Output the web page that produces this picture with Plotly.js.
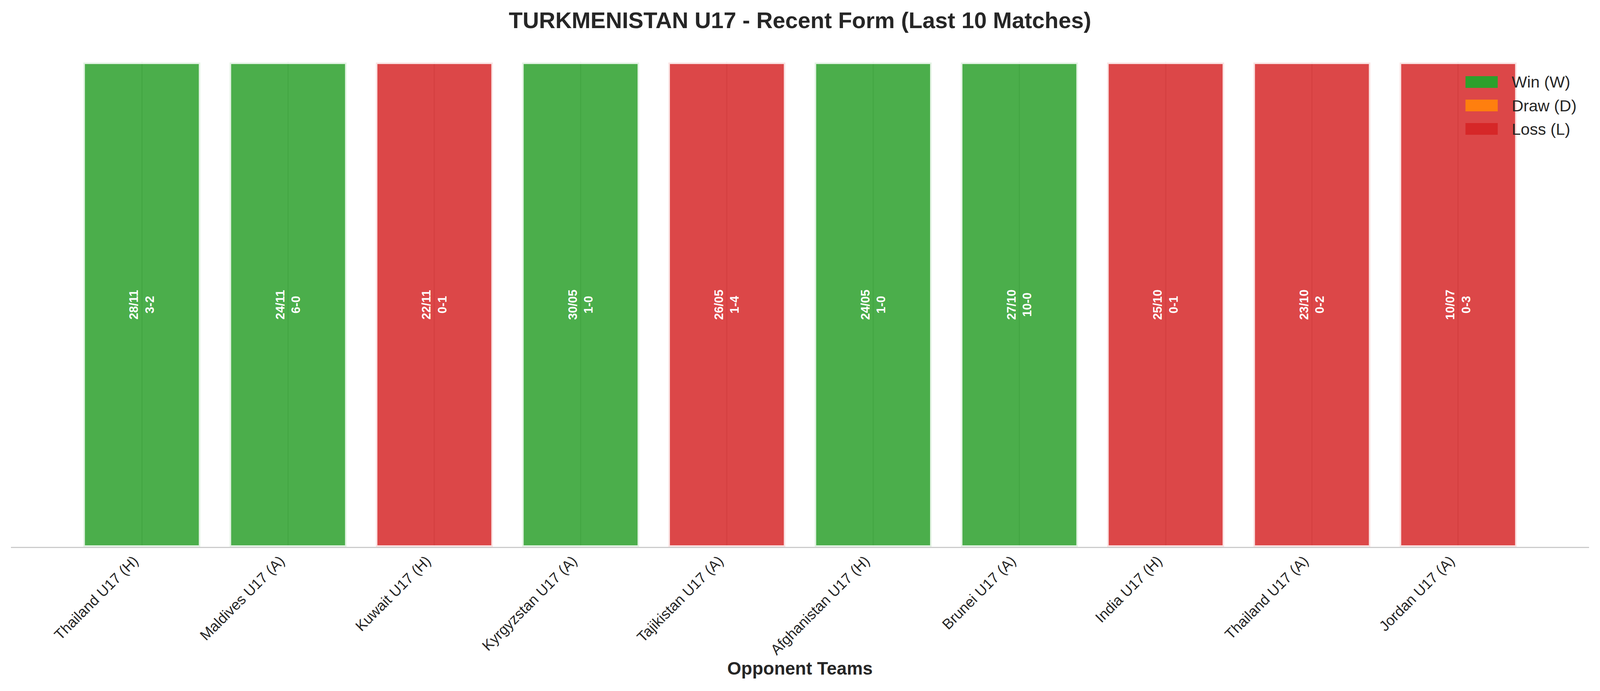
<!DOCTYPE html>
<html>
<head>
<meta charset="utf-8">
<script src="https://cdn.plot.ly/plotly-3.0.1.min.js"></script>
<style>html,body{margin:0;padding:0;background:#fff;overflow:hidden;}</style>
</head>
<body>
<div id="chart"></div>
<script>
const opponents = ['Thailand U17 (H)','Maldives U17 (A)','Kuwait U17 (H)','Kyrgyzstan U17 (A)','Tajikistan U17 (A)','Afghanistan U17 (H)','Brunei U17 (A)','India U17 (H)','Thailand U17 (A)','Jordan U17 (A)'];
const results = ['W','W','L','W','L','W','W','L','L','L'];
const dates = ['28/11','24/11','22/11','30/05','26/05','24/05','27/10','25/10','23/10','10/07'];
const scores = ['3-2','6-0','0-1','1-0','1-4','1-0','10-0','0-1','0-2','0-3'];
const barHeights = [1,1,1,1,1,1,1,1,1,1];

const legendKeys = ['W','D','L'];
const legendLabels = ['Win (W)','Draw (D)','Loss (L)'];
const resultColors = {W:'#2ca02c', D:'#ff7f0e', L:'#d62728'};
const resultFill = {W:'rgba(44,160,44,0.85)', D:'rgba(255,127,14,0.85)', L:'rgba(214,39,40,0.85)'};

const FONT = 'Liberation Sans, Arial, Helvetica, sans-serif';
const TXT = '#262626';

// reference design is 4170x1769; fit to the real viewport
const W = Math.min(window.innerWidth || 4170, 4170);
const H = Math.min(window.innerHeight || 1769, 1769);
const sx = W/4170, sy = H/1769;

const trace = {
  type:'bar',
  x: opponents,
  y: barHeights,
  width: 0.8,
  marker:{
    color: results.map(r=>resultFill[r]),
    line:{color:'rgba(255,255,255,0.85)', width:8}
  },
  text: dates.map((d,i)=>d+'<br>'+scores[i]),
  textposition:'inside',
  insidetextanchor:'middle',
  textangle:-90,
  constraintext:'none',
  textfont:{family:FONT, size:31, color:'#ffffff', weight:'bold'},
  hoverinfo:'skip',
  showlegend:false
};

const L = 29*sx, R = 29*sx, T = 157*sy, B = 369*sy;
const pw = W-L-R, ph = H-T-B;
const px = x => (x*sx-L)/pw;
const py = y => (H-B-y*sy)/ph;

const shapes = [];
const annotations = [];
legendKeys.forEach((k,i)=>{
  const yc = 210 + i*60;
  shapes.push({type:'rect', xref:'paper', yref:'paper', x0:px(3819), x1:px(3903), y0:py(yc+15), y1:py(yc-15),
    fillcolor:resultColors[k], line:{width:0}, layer:'above'});
  annotations.push({xref:'paper', yref:'paper', x:px(3937), y:py(yc), xanchor:'left', yanchor:'middle',
    text:legendLabels[i], showarrow:false, font:{family:FONT, size:41.5, color:TXT}});
});

const layout = {
  width:W, height:H,
  margin:{l:L, r:R, t:T, b:B, pad:0},
  paper_bgcolor:'#ffffff',
  plot_bgcolor:'#ffffff',
  title:{text:'TURKMENISTAN U17 - Recent Form (Last 10 Matches)', font:{family:FONT, size:58, color:TXT, weight:'bold'},
    x:0.5, xanchor:'center', xref:'container', y:1-52/1769, yanchor:'middle', yref:'container'},
  xaxis:{
    type:'category',
    range:[-0.895, 9.895],
    showgrid:true, gridcolor:'#cccccc', gridwidth:3,
    showline:true, linecolor:'#cccccc', linewidth:3,
    ticks:'', tickangle:-45,
    tickfont:{family:FONT, size:37.5, color:TXT},
    ticklabelstandoff:-4,
    ticklabelshift:-20,
    zeroline:false,
    title:{text:'Opponent Teams', font:{family:FONT, size:46, color:TXT, weight:'bold'}, standoff:12}
  },
  yaxis:{
    range:[0, 1.0024],
    visible:false, showgrid:false, zeroline:false
  },
  shapes:shapes,
  annotations:annotations,
  showlegend:false
};

Plotly.newPlot('chart', [trace], layout, {displayModeBar:false, staticPlot:true});
</script>
</body>
</html>
